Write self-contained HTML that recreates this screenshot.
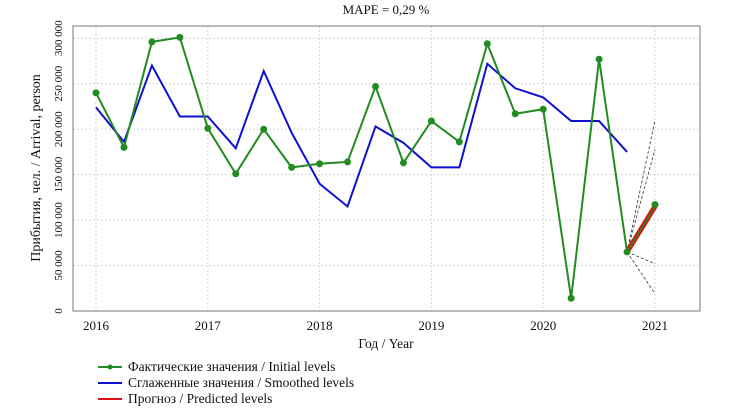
<!DOCTYPE html>
<html><head><meta charset="utf-8"><style>
body{margin:0;background:#fff;font-family:"Liberation Serif",serif;}
svg text{font-family:"Liberation Serif",serif;fill:#111;}
</style></head><body>
<svg width="742" height="414" id="c">
<text x="386" y="14" text-anchor="middle" font-size="13">MAPE = 0,29 %</text>
<g id="grid"></g>
<rect x="73" y="26" width="627" height="285" fill="none" stroke="#777" stroke-width="1"/>
<g id="marks"></g>
<text transform="translate(40,168) rotate(-90)" text-anchor="middle" font-size="14">Прибытия, чел. / Arrival, person</text>
<text x="386" y="348" text-anchor="middle" font-size="13.5">Год / Year</text>
<g>
<g><line x1="98" y1="367" x2="122" y2="367" stroke="#228b22" stroke-width="2"/><circle cx="110" cy="367" r="2.5" fill="#228b22"/><text x="128" y="371" font-size="13.5">Фактические значения / Initial levels</text></g>
<g><line x1="98" y1="383" x2="122" y2="383" stroke="#1010d0" stroke-width="2"/><text x="128" y="387" font-size="13.5">Сглаженные значения / Smoothed levels</text></g>
<g><line x1="98" y1="399" x2="122" y2="399" stroke="#e01010" stroke-width="2"/><text x="128" y="403" font-size="13.5">Прогноз / Predicted levels</text></g>
</g>
</svg>
<script>
const initialLevels=[240000,180000,296000,301000,201000,151000,200000,158000,162000,164000,247000,163000,209000,186000,294000,217000,222000,14000,277000,65000,117000];
const smoothedLevels=[224000,186000,270000,214000,214000,179000,264000,196000,140000,115000,203000,185000,158000,158000,272000,245000,235000,209000,209000,175000];
const predicted=[65000,115000];
const bounds=[[65000,210000],[65000,178000],[65000,52000],[65000,19000]];
const startYear=2016;
const yTicks=[0,50000,100000,150000,200000,250000,300000];
const xTicks=[2016,2017,2018,2019,2020,2021];
const NS='http://www.w3.org/2000/svg';
const X=t=>96+(t-2016)*111.8;
const Y=v=>311-v*0.000909;
const grid=document.getElementById('grid'),marks=document.getElementById('marks'),svg=document.getElementById('c');
function mk(tag,at,par){const e=document.createElementNS(NS,tag);for(const k in at)e.setAttribute(k,at[k]);par.appendChild(e);return e;}
yTicks.forEach(v=>{
 const l=mk('line',{x1:73,x2:700,y1:Y(v),y2:Y(v),stroke:'#d6d6d6','stroke-dasharray':'2,2'},grid);
 
 
 const t=mk('text',{transform:`translate(62,${Y(v)}) rotate(-90)`,'text-anchor':'middle','font-size':'11'},svg);
 t.textContent=v===0?'0':(v/1000)+' 000';
 
 
});
xTicks.forEach(y=>{
 const l=mk('line',{x1:X(y),x2:X(y),y1:26,y2:311,stroke:'#d6d6d6','stroke-dasharray':'2,2'},grid);
 
 
 const t=mk('text',{x:X(y),y:330,'text-anchor':'middle','font-size':'13'},svg);
 t.textContent=y;
 
 
});
const tq=i=>startYear+i*0.25;
const last=smoothedLevels.length-1;
bounds.forEach(b=>{
 const l=mk('line',{x1:X(tq(last)),y1:Y(b[0]),x2:X(tq(last+1)),y2:Y(b[1]),stroke:'#333','stroke-width':0.8,'stroke-dasharray':'3,2'},marks);
 
 
});
const bl=mk('polyline',{points:smoothedLevels.map((v,i)=>X(tq(i))+','+Y(v)).join(' '),fill:'none',stroke:'#1010d0','stroke-width':2},marks);


const gl=mk('polyline',{points:initialLevels.map((v,i)=>X(tq(i))+','+Y(v)).join(' '),fill:'none',stroke:'#228b22','stroke-width':2},marks);


const rl=mk('polyline',{points:predicted.map((v,i)=>X(tq(last+i))+','+Y(v)).join(' '),fill:'none',stroke:'#e01010','stroke-width':5},marks);


const rg=mk('polyline',{points:predicted.map((v,i)=>X(tq(last+i))+','+Y(v)).join(' '),fill:'none',stroke:'#228b22','stroke-width':1.5},marks);


initialLevels.forEach((v,i)=>{
 const c=mk('circle',{cx:X(tq(i)),cy:Y(v),r:3.5,fill:'#228b22'},marks);
 
 
});
</script>
</body></html>
